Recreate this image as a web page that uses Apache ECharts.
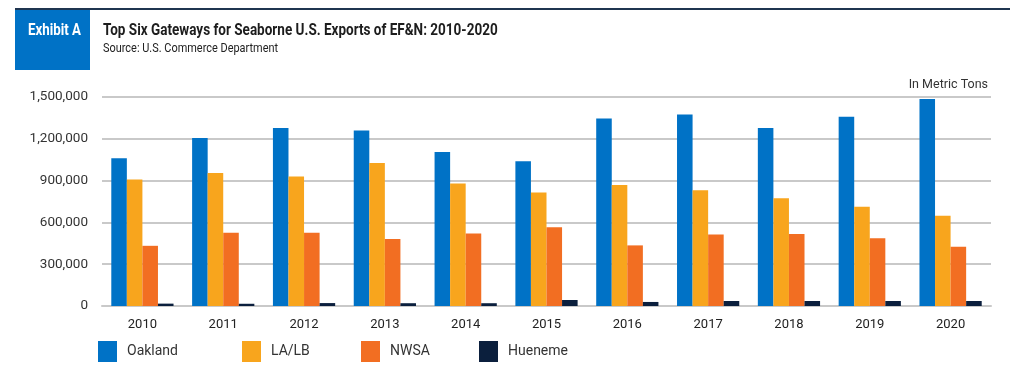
<!DOCTYPE html>
<html>
<head>
<meta charset="utf-8">
<script src="https://cdn.jsdelivr.net/npm/echarts@6/dist/echarts.min.js"></script>
<style>
  html, body { margin: 0; padding: 0; background: #fff; }
  #chart { width: 1024px; height: 375px; }
</style>
</head>
<body>
<div id="chart"></div>
<script>
// Exhibit A – seaborne exports of EF&N by gateway, metric tons
const years = ['2010', '2011', '2012', '2013', '2014', '2015', '2016', '2017', '2018', '2019', '2020'];
const oakland = [1060000, 1206000, 1278000, 1259000, 1106000, 1039000, 1345000, 1374000, 1278000, 1359000, 1486000];
const laLb = [908000, 955000, 929000, 1027000, 879000, 815000, 869000, 831000, 774000, 712000, 647000];
const nwsa = [432000, 525000, 525000, 480000, 521000, 566000, 435000, 514000, 516000, 487000, 425000];
const hueneme = [17000, 16000, 21000, 20000, 20000, 43000, 29000, 36000, 36000, 36000, 36000];
const yTicks = [0, 300000, 600000, 900000, 1200000, 1500000];

const colors = {
  Oakland: '#0072c6',
  'LA/LB': '#f8a51d',
  NWSA: '#f26e22',
  Hueneme: '#0b1f3d'
};

const chart = echarts.init(document.getElementById('chart'), null, { renderer: 'canvas' });

function makeBar(name, data) {
  return {
    name: name,
    type: 'bar',
    data: data,
    barGap: '0%',
    barCategoryGap: '23%',
    itemStyle: { color: colors[name] },
    emphasis: { disabled: true }
  };
}

function legendAt(name, left) {
  return {
    data: [name],
    left: left,
    top: 336,
    itemWidth: 19,
    itemHeight: 21,
    icon: 'rect',
    selectedMode: false,
    textStyle: {
      fontFamily: 'Roboto, sans-serif',
      fontSize: 14,
      color: '#333',
      padding: [0, 0, 0, 5]
    }
  };
}

// header texts are squeezed horizontally to mimic the condensed face of the original
function headText(text, x, y, font, fill, sx) {
  return {
    type: 'text',
    x: x,
    y: y,
    scaleX: sx,
    silent: true,
    style: {
      text: text,
      font: font,
      fill: fill,
      align: 'left',
      verticalAlign: 'top'
    }
  };
}

chart.setOption({
  animation: false,
  graphic: [
    {
      type: 'rect',
      shape: { x: 15, y: 8, width: 995, height: 2 },
      style: { fill: '#1f3550' },
      silent: true
    },
    {
      type: 'rect',
      shape: { x: 15, y: 10, width: 75, height: 60 },
      style: { fill: '#0072c6' },
      silent: true
    },
    headText('Exhibit A', 28, 23, 'bold 16px Roboto, sans-serif', '#fff', 0.83),
    headText('Top Six Gateways for Seaborne U.S. Exports of EF&N: 2010-2020', 103, 23,
      'bold 16px Roboto, sans-serif', '#1d1d1d', 0.845),
    headText('Source: U.S. Commerce Department', 103, 42,
      '13.5px Roboto, sans-serif', '#222', 0.81),
    {
      type: 'text',
      right: 36,
      top: 78,
      style: {
        text: 'In Metric Tons',
        fill: '#333',
        font: '12.5px Roboto, sans-serif'
      },
      silent: true
    }
  ],
  legend: [
    legendAt('Oakland', 93),
    legendAt('LA/LB', 237),
    legendAt('NWSA', 356),
    legendAt('Hueneme', 474)
  ],
  grid: {
    left: 102,
    right: 33,
    top: 97,
    bottom: 69,
    containLabel: false
  },
  xAxis: {
    type: 'category',
    data: years,
    axisLine: { lineStyle: { color: '#c9c9c9', width: 2 } },
    axisTick: { show: false },
    axisLabel: {
      fontFamily: 'Roboto, sans-serif',
      fontSize: 13,
      color: '#222',
      margin: 12
    }
  },
  yAxis: {
    type: 'value',
    min: yTicks[0],
    max: yTicks[yTicks.length - 1],
    interval: yTicks[1] - yTicks[0],
    axisLine: { show: false },
    axisTick: { show: false },
    axisLabel: {
      fontFamily: 'Roboto, sans-serif',
      fontSize: 13.5,
      color: '#333',
      margin: 14,
      formatter: function (v) {
        return v.toLocaleString('en-US');
      }
    },
    splitLine: {
      lineStyle: { color: '#c9c9c9', width: 2 }
    }
  },
  series: [
    makeBar('Oakland', oakland),
    makeBar('LA/LB', laLb),
    makeBar('NWSA', nwsa),
    makeBar('Hueneme', hueneme)
  ]
});
</script>
</body>
</html>
